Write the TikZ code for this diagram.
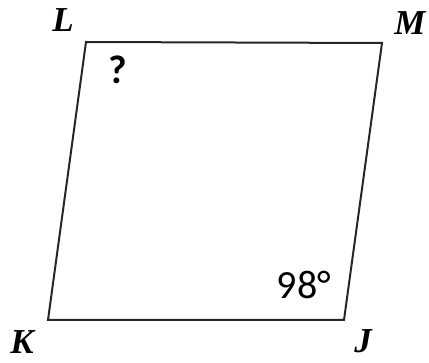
\documentclass[tikz,border=0pt]{standalone}
\usepackage{fontspec}
\setmainfont{Liberation Serif}
\newfontfamily\numfont{Carlito}
\begin{document}
\begin{tikzpicture}[x=1pt,y=-1pt,
  side/.style={draw=black!85, line width=2pt, line join=miter},
  vlabel/.style={font=\fontsize{35}{35}\selectfont\bfseries\itshape, inner sep=0pt},
  anglabel/.style={font=\numfont\fontsize{40}{40}\selectfont, inner sep=0pt}]
\useasboundingbox (0,0) rectangle (429,363);
\coordinate (L) at (86,42);
\coordinate (M) at (382,43);
\coordinate (J) at (344,320);
\coordinate (K) at (48,320);
\draw[side] (L) -- (M) -- (J) -- (K) -- cycle;
\node[vlabel] (tL) at (63,20) {L};
\node[vlabel] (tM) at (410,23) {M};
\node[vlabel,anchor=base] (tK) at (22,354) {K};
\node[vlabel,anchor=base] (tJ) at (363,353) {J};
\node[anglabel] (q) at (118,70) {\bfseries ?};
\node[anglabel] (a) at (304,285) {98°};
\end{tikzpicture}
\end{document}
